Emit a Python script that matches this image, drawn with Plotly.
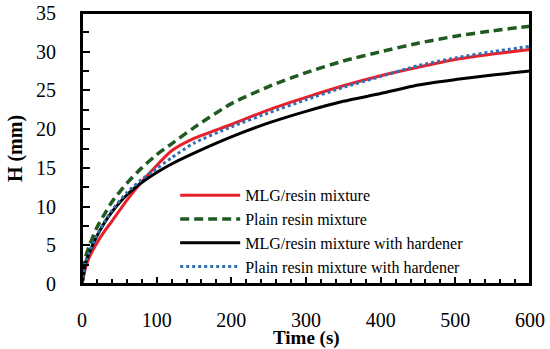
import plotly.graph_objects as go

time_s = [0, 5, 10, 20, 30, 40, 60, 80, 100, 120, 150, 200, 250, 300, 350, 400, 450, 500, 550, 600]
mlg_resin = [0, 2.2, 3.5, 5.3, 6.8, 8.1, 10.8, 13.2, 15.3, 17.2, 18.8, 20.6, 22.5, 24.1, 25.6, 26.9, 28.0, 29.0, 29.7, 30.3]
plain_resin = [0, 3.5, 5.0, 7.3, 9.0, 10.6, 13.0, 15.0, 16.7, 18.1, 20.2, 23.3, 25.5, 27.3, 28.8, 30.0, 31.1, 32.0, 32.7, 33.3]
mlg_hardener = [0, 2.8, 4.1, 6.2, 7.9, 9.3, 11.5, 13.1, 14.4, 15.5, 16.9, 19.0, 20.8, 22.3, 23.6, 24.6, 25.7, 26.4, 27.0, 27.5]
plain_hardener = [0, 2.9, 4.2, 6.3, 8.0, 9.5, 11.8, 13.5, 14.9, 16.3, 18.2, 20.3, 22.1, 23.8, 25.4, 26.8, 28.2, 29.2, 30.0, 30.7]

names = ["MLG/resin mixture", "Plain resin mixture",
         "MLG/resin mixture with hardener", "Plain resin mixture with hardener"]

FONT = "Liberation Serif"

fig = go.Figure()
fig.add_trace(go.Scatter(x=time_s, y=mlg_resin, mode="lines", name=names[0],
                         line=dict(color="#e8202a", width=3, shape="spline", smoothing=0.6)))
fig.add_trace(go.Scatter(x=time_s, y=plain_resin, mode="lines", name=names[1],
                         line=dict(color="#1f5a1f", width=3.5, dash="9px,5px", shape="spline", smoothing=0.6)))
fig.add_trace(go.Scatter(x=time_s, y=mlg_hardener, mode="lines", name=names[2],
                         line=dict(color="#000000", width=3, shape="spline", smoothing=0.6)))
fig.add_trace(go.Scatter(x=time_s, y=plain_hardener, mode="lines", name=names[3],
                         line=dict(color="#2e6fb5", width=3, dash="dot", shape="spline", smoothing=0.6)))

fig.update_layout(
    width=550, height=349,
    margin=dict(l=82, r=20, t=13, b=65, autoexpand=False),
    paper_bgcolor="white", plot_bgcolor="white",
    font=dict(family=FONT, color="black", size=20),
    showlegend=True,
    legend=dict(x=0.208, y=0.39, xanchor="left", yanchor="top",
                bgcolor="rgba(0,0,0,0)", font=dict(size=16, family=FONT),
                tracegroupgap=0, itemwidth=60),
    annotations=[dict(text="<b>Time (s)</b>", xref="paper", yref="paper",
                      x=0.5, y=-0.199, xanchor="center", yanchor="middle",
                      showarrow=False, font=dict(size=19, family=FONT))],
    shapes=[dict(type="rect", xref="paper", yref="paper", x0=0, y0=0, x1=1, y1=1,
                 line=dict(color="black", width=2), layer="above")],
)
fig.update_xaxes(
    range=[0, 600], tickvals=[0, 100, 200, 300, 400, 500, 600],
    showline=True, linecolor="black", linewidth=2, mirror=True,
    ticks="inside", ticklen=7, tickwidth=1.5, tickcolor="black",
    minor=dict(dtick=20, ticks="inside", ticklen=5, tickwidth=1.5, tickcolor="black"),
    showgrid=False, zeroline=False, ticklabelstandoff=17, automargin=False,
    tickfont=dict(size=20, family=FONT),
)
fig.update_yaxes(
    range=[0, 35], tickvals=[0, 5, 10, 15, 20, 25, 30, 35],
    showline=True, linecolor="black", linewidth=2, mirror=True,
    ticks="inside", ticklen=8, tickwidth=1.5, tickcolor="black",
    minor=dict(dtick=2.5, ticks="inside", ticklen=7, tickwidth=1.5, tickcolor="black"),
    showgrid=False, zeroline=False, ticklabelstandoff=20, automargin=False,
    tickfont=dict(size=20, family=FONT),
    title=dict(text="<b>H (mm)</b>", font=dict(size=20, family=FONT), standoff=8),
)

fig.write_html("out.html", config={"displayModeBar": False},
               post_script="document.body.style.margin='0';document.body.style.overflow='hidden';")
